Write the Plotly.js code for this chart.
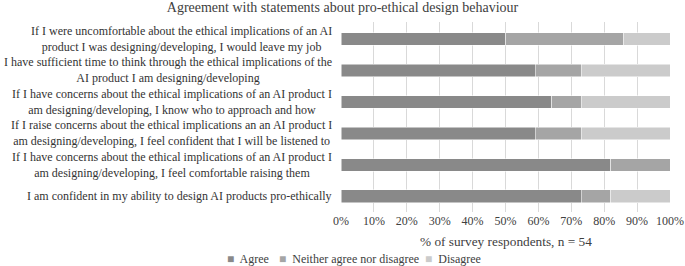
<!DOCTYPE html>
<html><head><meta charset="utf-8">
<script src="https://cdn.plot.ly/plotly-3.0.1.min.js"></script>
<style>html,body{margin:0;padding:0;background:#fff;}#chart{width:685px;height:266px;}</style>
</head><body><div id="chart"></div>
<script>
const categories = [
  "If I were uncomfortable about the ethical implications of an AI<br>product I was designing/developing, I would leave my job",
  "I have sufficient time to think through the ethical implications of the<br>AI product I am designing/developing",
  "If I have concerns about the ethical implications of an AI product I<br>am designing/developing, I know who to approach and how",
  "If I raise concerns about the ethical implications an an AI product I<br>am designing/developing, I feel confident that I will be listened to",
  "If I have concerns about the ethical implications of an AI product I<br>am designing/developing, I feel comfortable raising them",
  "I am confident in my ability to design AI products pro-ethically"
];
const agree    = [50, 59, 64, 59, 82, 73];
const neither  = [36, 14,  9, 14, 18,  9];
const disagree = [14, 27, 27, 27,  0, 18];
const seriesNames = ["Agree", "Neither agree nor disagree", "Disagree"];
const tickVals = [0,10,20,30,40,50,60,70,80,90,100];
const tickText = tickVals.map(v => v + "%");
const xTitle = "% of survey respondents, n = 54";
const chartTitle = "Agreement with statements about pro-ethical design behaviour";

const font = "Liberation Serif";
const colors = ["#898989", "#a5a5a5", "#cbcbcb"];
const data = [agree, neither, disagree].map((vals, i) => ({
  type: "bar", orientation: "h", name: seriesNames[i],
  x: vals, y: categories,
  marker: {color: colors[i], line: {color: "#ffffff", width: 0.5}},
  hoverinfo: "skip", showlegend: false
}));

const annotations = categories.map(c => ({
  xref: "paper", yref: "y", x: -0.022, y: c, text: c,
  xanchor: "right", yanchor: "middle", align: "center", showarrow: false,
  font: {family: font, size: 12, color: "#333"}
}));
annotations.push({
  xref: "paper", yref: "paper", x: 0.5, y: -0.105, text: xTitle,
  xanchor: "center", yanchor: "top", showarrow: false,
  font: {family: font, size: 13.3, color: "#404040"}
});
const legX = [225, 277, 423];
seriesNames.forEach((n, i) => {
  annotations.push({
    xref: "paper", yref: "paper", x: (legX[i] - 341) / 329, y: -0.2,
    text: "<span style='color:" + colors[i] + "'>■</span>  " + n,
    xanchor: "left", yanchor: "top", showarrow: false,
    font: {family: font, size: 12, color: "#404040"}
  });
});

const layout = {
  width: 685, height: 266,
  margin: {l: 341, r: 15, t: 22, b: 54},
  barmode: "stack", bargap: 0.6,
  paper_bgcolor: "#fff", plot_bgcolor: "#fff",
  font: {family: font, size: 12, color: "#404040"},
  title: {text: chartTitle,
          font: {family: font, size: 14, color: "#404040"},
          x: 0.5, xref: "container", y: 0.972, yref: "container", yanchor: "middle", xanchor: "center"},
  xaxis: {range: [0, 100], tickvals: tickVals, ticktext: tickText,
          showgrid: true, gridcolor: "#d9d9d9", gridwidth: 1, zeroline: false,
          showline: false, ticks: "", tickfont: {family: font, size: 12, color: "#404040"}},
  yaxis: {type: "category", autorange: "reversed", showticklabels: false,
          showgrid: false, zeroline: false, ticks: ""},
  showlegend: false,
  annotations: annotations
};
Plotly.newPlot("chart", data, layout, {displayModeBar: false, staticPlot: true});
</script></body></html>
